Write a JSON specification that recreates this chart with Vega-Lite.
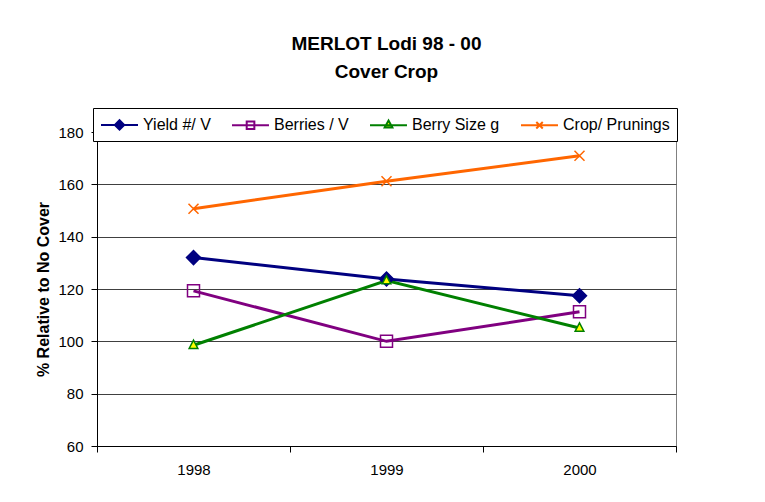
{
  "$schema": "https://vega.github.io/schema/vega-lite/v6.json",
  "autosize": {"type": "none"},
  "width": 579,
  "height": 314,
  "padding": {"left": 97, "top": 132, "right": 89, "bottom": 56},
  "background": "white",
  "title": {
    "text": ["MERLOT Lodi  98 - 00", "Cover Crop"],
    "font": "Liberation Sans",
    "fontSize": 19,
    "fontWeight": "bold",
    "color": "black",
    "anchor": "middle",
    "frame": "group",
    "baseline": "alphabetic",
    "lineHeight": 28,
    "offset": 11
  },
  "data": {
    "values": [
      {"year": "1998", "series": "Yield #/ V", "value": 132},
      {"year": "1999", "series": "Yield #/ V", "value": 123.8},
      {"year": "2000", "series": "Yield #/ V", "value": 117.4},
      {"year": "1998", "series": "Berries / V", "value": 119.3},
      {"year": "1999", "series": "Berries / V", "value": 100},
      {"year": "2000", "series": "Berries / V", "value": 111.3},
      {"year": "1998", "series": "Berry Size g", "value": 98.5},
      {"year": "1999", "series": "Berry Size g", "value": 123.2},
      {"year": "2000", "series": "Berry Size g", "value": 105.1},
      {"year": "1998", "series": "Crop/ Prunings", "value": 150.7},
      {"year": "1999", "series": "Crop/ Prunings", "value": 161.2},
      {"year": "2000", "series": "Crop/ Prunings", "value": 170.9}
    ]
  },
  "encoding": {
    "x": {
      "field": "year",
      "type": "ordinal",
      "bandPosition": 0.5,
      "scale": {"type": "band", "paddingInner": 0, "paddingOuter": 0},
      "axis": {
        "title": null,
        "labelAngle": 0,
        "tickBand": "extent",
        "tickSize": 6,
        "tickColor": "black",
        "domainColor": "black",
        "labelFont": "Liberation Sans",
        "labelFontSize": 15,
        "labelColor": "black",
        "labelPadding": 10,
        "grid": false
      }
    },
    "y": {
      "field": "value",
      "type": "quantitative",
      "scale": {"domain": [60, 180], "nice": false, "zero": false},
      "axis": {
        "title": "% Relative to No Cover",
        "titleFont": "Liberation Sans",
        "titleFontSize": 16,
        "titleFontWeight": "bold",
        "titleColor": "black",
        "titlePadding": 6,
        "values": [60, 80, 100, 120, 140, 160, 180],
        "tickSize": 6,
        "tickColor": "black",
        "domainColor": "black",
        "labelFont": "Liberation Sans",
        "labelFontSize": 15,
        "labelColor": "black",
        "labelPadding": 8,
        "grid": true,
        "gridColor": "#404040",
        "gridOpacity": 1
      }
    }
  },
  "layer": [
    {
      "mark": {"type": "line", "strokeWidth": 3},
      "encoding": {
        "color": {
          "field": "series",
          "type": "nominal",
          "scale": {
            "domain": ["Yield #/ V", "Berries / V", "Berry Size g", "Crop/ Prunings"],
            "range": ["#000080", "#800080", "#008000", "#FF6600"]
          },
          "legend": {
            "title": null,
            "orient": "none",
            "legendX": -4,
            "legendY": -24,
            "direction": "horizontal",
            "columns": 4,
            "columnPadding": 17,
            "labelOffset": 24,
            "labelFont": "Liberation Sans",
            "labelFontSize": 16,
            "labelColor": "black",
            "symbolSize": 289,
            "symbolStrokeWidth": 2,
            "padding": 7,
            "strokeColor": "black",
            "fillColor": "white",
            "encode": {
              "symbols": {
                "update": {
                  "shape": {"signal": "datum.value === 'Yield #/ V' ? 'M-1,0H3.35M1.18,-0.55L1.73,0L1.18,0.55L0.63,0Z' : datum.value === 'Berries / V' ? 'M-1,0H3.35M0.73,-0.45H1.63V0.45H0.73Z' : datum.value === 'Berry Size g' ? 'M-1,0H3.35M1.18,-0.55L1.63,0.25H0.73Z' : 'M-1,0H3.35M0.8,-0.38L1.56,0.38M0.8,0.38L1.56,-0.38'"},
                  "fill": {"signal": "datum.value === 'Yield #/ V' ? '#000080' : datum.value === 'Berry Size g' ? '#FFFF00' : 'transparent'"},
                  "stroke": {"signal": "datum.value === 'Yield #/ V' ? '#000080' : datum.value === 'Berries / V' ? '#800080' : datum.value === 'Berry Size g' ? '#008000' : '#FF6600'"},
                  "strokeWidth": {"value": 2},
                  "opacity": {"value": 1}
                }
              }
            }
          }
        }
      }
    },
    {
      "transform": [{"filter": "datum.series === 'Yield #/ V'"}],
      "mark": {"type": "point", "shape": "diamond", "size": 196, "filled": true, "fill": "#000080", "stroke": "#000080", "strokeWidth": 1.5, "opacity": 1}
    },
    {
      "transform": [{"filter": "datum.series === 'Berries / V'"}],
      "mark": {"type": "point", "shape": "square", "size": 144, "filled": false, "fill": "transparent", "stroke": "#800080", "strokeWidth": 1.5, "opacity": 1}
    },
    {
      "transform": [{"filter": "datum.series === 'Berry Size g'"}],
      "mark": {"type": "point", "shape": "M0,-0.72L0.62,0.46H-0.62Z", "size": 196, "filled": true, "fill": "#FFFF00", "stroke": "#008000", "strokeWidth": 1.5, "opacity": 1}
    },
    {
      "transform": [{"filter": "datum.series === 'Crop/ Prunings'"}],
      "mark": {"type": "point", "shape": "M-1,-1L1,1M-1,1L1,-1", "size": 100, "filled": false, "stroke": "#FF6600", "strokeWidth": 1.5, "opacity": 1}
    }
  ],
  "config": {
    "view": {"stroke": "#808080", "strokeWidth": 1},
    "axis": {"domainWidth": 1, "tickWidth": 1}
  }
}
